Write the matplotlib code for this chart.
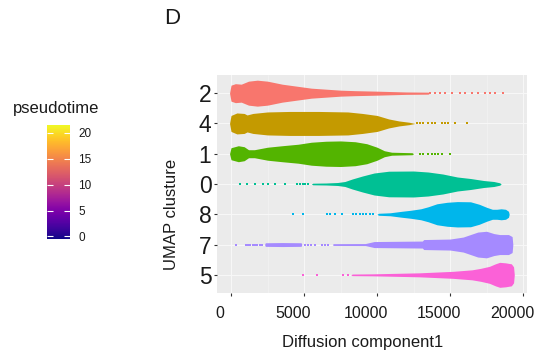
import matplotlib
matplotlib.use("Agg")
import numpy as np
import matplotlib.pyplot as plt
from matplotlib.transforms import ScaledTranslation
from matplotlib.ticker import MultipleLocator
from matplotlib.cm import ScalarMappable
from matplotlib.colors import Normalize

plt.rcParams['font.family'] = ['Liberation Sans', 'DejaVu Sans']

# clusters, top to bottom
clusters = ["2", "4", "1", "0", "8", "7", "5"]
colors = ["#F8766D", "#C49A00", "#53B400", "#00C094", "#00B6EB", "#A58AFF", "#FB61D7"]

# width profile of each swarm: diffusion component1 -> local density
prof_x = {
    "2": [-100, 0, 300, 700, 1200, 1800, 2500, 3500, 4500, 5500, 6500, 7500, 8500, 10000, 12000, 13500, 13600],
    "4": [-100, 0, 400, 900, 1100, 1500, 2500, 4000, 6000, 8000, 9000, 10000, 10800, 11500, 12200, 12600],
    "1": [-100, 0, 500, 900, 1200, 1600, 2500, 3500, 4600, 5500, 6500, 7500, 8500, 9300, 10000, 10500, 11000, 12400, 12500],
    "0": [5500, 5600, 6500, 7300, 7800, 8300, 9000, 9800, 10800, 12500, 13500, 14500, 15500, 16400, 17300, 18000, 18400, 18500],
    "8": [10000, 10100, 10900, 11700, 12300, 13000, 13500, 14100, 14800, 15500, 16400, 17000, 17500, 17900, 18200, 18500, 18800, 19000, 19050],
    "7": [2300, 2350, 3500, 4800, 4850, 6950, 7000, 9200, 9800, 13100, 13200, 15000, 15900, 16400, 16900, 17500, 18000, 18400, 19000, 19250, 19300],
    "5": [8200, 8300, 9700, 12900, 15200, 16500, 17100, 17700, 18100, 18400, 18800, 19200, 19350, 19400],
}
prof_d = {
    "2": [0, 8, 9.5, 9, 12, 13, 12, 9, 7, 5, 4, 3, 2.5, 2, 1.2, 1, 0],
    "4": [0, 8, 10.5, 10, 8.5, 10, 11.5, 12, 12, 11.5, 10, 8, 4.5, 2.5, 1.2, 0],
    "1": [0, 6, 8, 7, 4, 4, 6.5, 8, 9.5, 11.5, 12.5, 12.8, 12, 10, 6.5, 3, 1.5, 1, 0],
    "0": [0, 0.8, 1, 1.5, 2.5, 5, 8, 11, 12.8, 13, 12, 10, 7, 5.5, 3.5, 2.5, 1.2, 0],
    "8": [0, 1, 1.5, 3, 4, 5.5, 7.5, 10.5, 12, 12.7, 12.5, 10, 7, 5, 5, 5.5, 5, 3, 0],
    "7": [0, 1.8, 2, 1.8, 0, 0, 0.9, 1, 3, 3.5, 5, 5.5, 7.5, 10, 12.5, 13.3, 11, 10, 10, 8, 0],
    "5": [0, 0.8, 1, 2, 3.5, 5, 6.5, 8.5, 11, 12.5, 12, 11, 8, 0],
}
# sparse single cells outside the dense part
dots = {
    "2": [13630, 13970, 14300, 14660, 15140, 15680, 16030, 16510, 16920, 17400, 17740, 18080, 18630],
    "4": [12740, 12950, 13150, 13490, 13770, 13970, 14450, 14660, 14860, 15340, 16160],
    "1": [12950, 13150, 13490, 13770, 13970, 14180, 14450, 15000],
    "0": [620, 1100, 1640, 2190, 2530, 3010, 3700, 4520, 4700, 4900, 5070, 5300],
    "8": [4250, 4930, 6580, 6780, 7120, 7600, 8360, 8560, 8800, 9040, 9250, 9520, 9700],
    "7": [340, 1000, 1150, 1300, 1500, 1650, 1800, 2000, 2150, 5070, 5250, 5450, 5750, 6230, 6450, 6640],
    "5": [4930, 5890, 7670, 8000],
}

pt_min, pt_max = -0.5, 21.5
pt_ticks = [0, 5, 10, 15, 20]
x_ticks = [0, 5000, 10000, 15000, 20000]

fig = plt.figure(figsize=(5.37, 3.58), dpi=100)
ax = fig.add_axes([217 / 537, 1 - 293 / 358, 310 / 537, 218 / 358])
ax.set_facecolor("#EBEBEB")
for s in ax.spines.values():
    s.set_visible(False)

scale = 0.033  # density units -> category rows
n = len(clusters)
for i, (cl, col) in enumerate(zip(clusters, colors)):
    y = n - i
    xs = np.array(prof_x[cl], dtype=float)
    ds = np.array(prof_d[cl], dtype=float) * scale
    ax.fill_between(xs, y - ds, y + ds, color=col, lw=0, zorder=3)
    dx = dots[cl]
    ax.scatter(dx, [y] * len(dx), s=4, marker="s", color=col, lw=0, zorder=3)

ax.set_xlim(-960, 20270)
ax.set_ylim(0.4, n + 0.6)
ax.set_yticks(range(n, 0, -1))
ax.set_yticklabels(clusters)
ax.set_xticks(x_ticks)
ax.set_xticklabels([str(v) for v in x_ticks])
ax.xaxis.set_minor_locator(MultipleLocator(2500))
ax.set_axisbelow(True)
ax.grid(which="major", color="#F7F7F7", lw=0.8)
ax.grid(which="minor", axis="x", color="#F4F4F4", lw=0.4)
ax.tick_params(axis="y", labelsize=16.5, length=2.5, pad=1.5, color="#333333", labelcolor="#1a1a1a")
ax.tick_params(axis="x", labelsize=11.5, length=2.5, pad=7, color="#333333", labelcolor="#1a1a1a")
ax.tick_params(which="minor", length=0)
for lab in ax.get_xticklabels():
    lab.set_transform(lab.get_transform() + ScaledTranslation(-0.11, 0, fig.dpi_scale_trans))

fig.text(363 / 537, 1 - 342 / 358, "Diffusion component1", ha="center", va="center", fontsize=12, color="#1a1a1a")
fig.text(172 / 537, 1 - 214 / 358, "UMAP clusture", ha="center", va="center", rotation=90, fontsize=12, color="#1a1a1a")
fig.text(172 / 537, 1 - 18 / 358, "D", ha="center", va="center", fontsize=16, color="#1a1a1a")

# pseudotime colour bar
cax = fig.add_axes([47 / 537, 1 - 239 / 358, 23 / 537, 114 / 358])
sm = ScalarMappable(norm=Normalize(pt_min, pt_max), cmap="plasma")
cb = fig.colorbar(sm, cax=cax, ticks=pt_ticks)
cb.outline.set_visible(False)
cax.tick_params(direction="in", length=4, color="white", left=True, right=True,
                labelsize=8.5, pad=6, labelcolor="#1a1a1a", width=0.8)
fig.text(13 / 537, 1 - 108 / 358, "pseudotime", ha="left", va="center", fontsize=12, color="#1a1a1a")

fig.savefig("out.png", dpi=100)
